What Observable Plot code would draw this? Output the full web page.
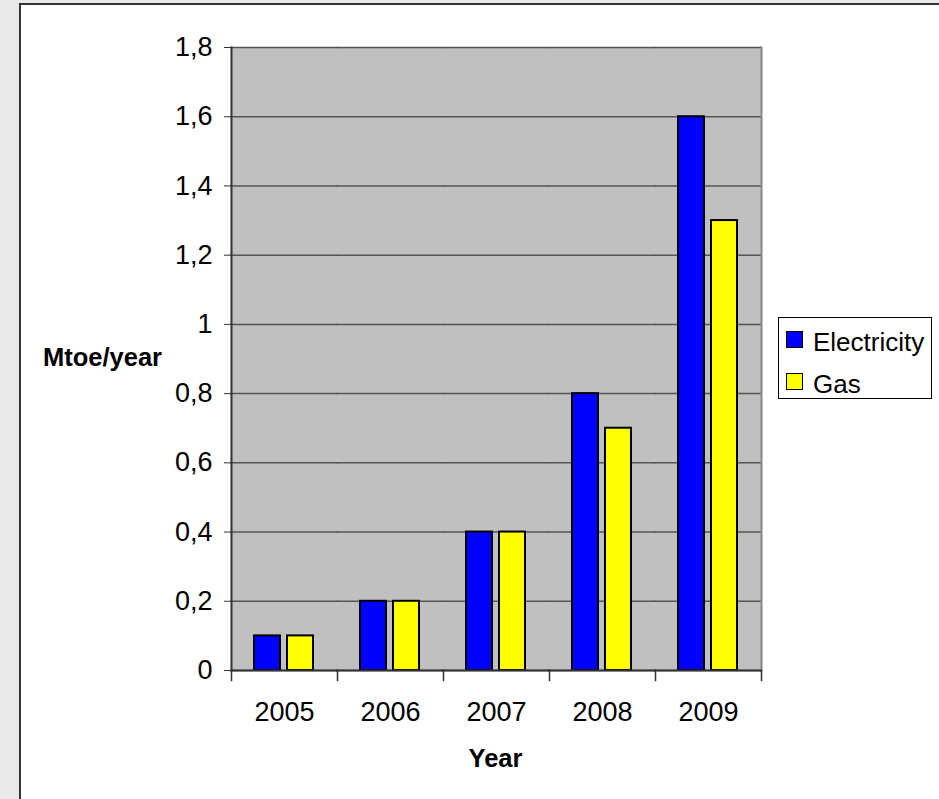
<!DOCTYPE html>
<html>
<head>
<meta charset="utf-8">
<script src="https://cdn.jsdelivr.net/npm/d3@7"></script>
<script src="https://cdn.jsdelivr.net/npm/@observablehq/plot@0.6"></script>
<style>
html, body { margin: 0; padding: 0; }
body { width: 939px; height: 799px; overflow: hidden; background: #e9e9e9; position: relative;
  font-family: Arial, "Liberation Sans", sans-serif; }
#box { position: absolute; left: 19px; top: 3px; width: 1000px; height: 1000px; background: #fff; border: 2px solid #333; }
#chart { position: absolute; left: 0; top: 0; }
.title { position: absolute; font-weight: bold; font-size: 25.5px; line-height: 25.5px; color: #000; white-space: nowrap; }
#ytitle { left: 43px; top: 345px; }
#xtitle { left: 230px; width: 531px; top: 746px; text-align: center; }
#legend { position: absolute; left: 778px; top: 317px; width: 152px; height: 80px; border: 1px solid #000; background: #fff; }
#legend .item { display: flex; align-items: center; height: 42.5px; padding-left: 7px; font-size: 26px; color: #000; }
#legend .sw { width: 15px; height: 15px; border: 1.5px solid #000; margin-right: 10px; flex: none; }
#legend .lab { position: relative; top: 3px; }
</style>
</head>
<body>
<div id="box"></div>
<div id="chart"></div>
<div class="title" id="ytitle">Mtoe/year</div>
<div class="title" id="xtitle">Year</div>
<div id="legend"></div>
<script>
// ---- data ----
const years = ["2005", "2006", "2007", "2008", "2009"];
const series = ["Electricity", "Gas"];
const electricity = [0.1, 0.2, 0.4, 0.8, 1.6];
const gas = [0.1, 0.2, 0.4, 0.7, 1.3];
const colors = ["#0000ff", "#ffff00"];
const yTicks = [0, 0.2, 0.4, 0.6, 0.8, 1, 1.2, 1.4, 1.6, 1.8];
const yTickLabels = ["0", "0,2", "0,4", "0,6", "0,8", "1", "1,2", "1,4", "1,6", "1,8"];

const data = years.flatMap((y, i) => [
  {year: y, series: series[0], value: electricity[i]},
  {year: y, series: series[1], value: gas[i]}
]);

const W = 939, H = 799, mL = 230, mR = 178, mT = 47, mB = 129;
const innerH = H - mT - mB;

const chart = Plot.plot({
  width: W, height: H,
  marginLeft: mL, marginRight: mR, marginTop: mT, marginBottom: mB,
  style: {background: "transparent", fontFamily: "Arial, 'Liberation Sans', sans-serif", fontSize: "27px", color: "#000", overflow: "visible"},
  fx: {domain: years, padding: 0, label: null},
  x: {domain: series, paddingInner: 0.2, paddingOuter: 0.66, axis: null},
  y: {domain: [0, 1.8]},
  color: {domain: series, range: colors},
  marks: [
    Plot.frame({fill: "#c0c0c0", insetLeft: -0.6, insetRight: -0.6}),
    Plot.ruleY(yTicks, {stroke: "#555", strokeWidth: 1.5, insetLeft: -0.6, insetRight: -0.6}),
    Plot.frame({anchor: "right", stroke: "#888", strokeWidth: 2, facetAnchor: "right"}),
    Plot.barY(data, {fx: "year", x: "series", y: "value", fill: "series", stroke: "#000", strokeWidth: 2}),
    Plot.ruleY([0], {stroke: "#333", strokeWidth: 2, insetLeft: -0.6, insetRight: -0.6}),
    Plot.frame({anchor: "left", stroke: "#333", strokeWidth: 2, facetAnchor: "left"}),
    Plot.frame({anchor: "left", stroke: "#333", strokeWidth: 1.5, insetTop: innerH, insetBottom: -10}),
    Plot.frame({anchor: "right", stroke: "#333", strokeWidth: 1.5, insetTop: innerH, insetBottom: -10, facetAnchor: "right"}),
    Plot.axisY({ticks: yTicks, tickSize: 7, tickPadding: 12, label: null, stroke: "#333",
      tickFormat: d => yTickLabels[yTicks.indexOf(d)]}),
    Plot.axisFx({anchor: "bottom", tickSize: 0, tickPadding: 31, label: null})
  ]
});
document.getElementById("chart").appendChild(chart);

// legend
const legend = document.getElementById("legend");
series.forEach((s, i) => {
  const row = document.createElement("div");
  row.className = "item";
  const sw = document.createElement("span");
  sw.className = "sw";
  sw.style.background = colors[i];
  const lab = document.createElement("span");
  lab.className = "lab";
  lab.textContent = s;
  row.appendChild(sw);
  row.appendChild(lab);
  legend.appendChild(row);
});
</script>
</body>
</html>
